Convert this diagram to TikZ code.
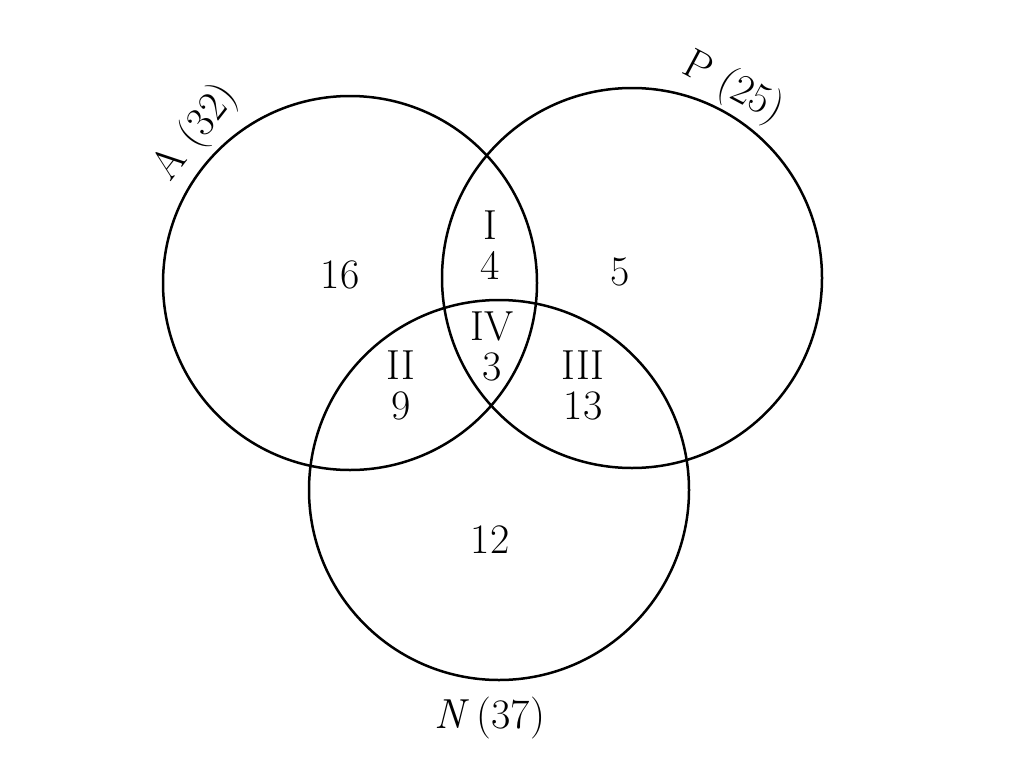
\documentclass[tikz,border=0pt]{standalone}
\begin{document}
\begin{tikzpicture}[x=1pt,y=-1pt]
   \tikzset{font={\fontsize{42pt}{40pt}\selectfont},
     set/.style={draw,circle,line width=2.5pt,inner sep=0pt}}
    \useasboundingbox (0,0) rectangle (1024,760);
    \node[set,minimum size=374pt] (A) at (350,283) {};
    \node[set,minimum size=380pt] (P) at (632,278) {};
    \node[set,minimum size=380pt] (N) at (499,490) {};
    % set names
    \node[rotate=52,inner sep=0pt] (lA) at (196,133) {A (32)};
    \node[rotate=-28,inner sep=0pt] (lP) at (733,88) {P (25)};
    \node[inner sep=0pt] (lN) at (490,718) {\textit{N}\,(37)};
    % region counts
    \node (a) at (340,275) {16};
    \node (p) at (620,272) {5};
    \node (n) at (490,540) {12};
    \node[align=center,inner sep=0pt] (r1) at (490,245) {I\\4};
    \node[align=center,inner sep=0pt] (r4) at (492,346) {IV\\3};
    \node[align=center,inner sep=0pt] (r2) at (401,385) {II\\9};
    \node[align=center,inner sep=0pt] (r3) at (583,385) {III\\13};
\end{tikzpicture}
\end{document}
